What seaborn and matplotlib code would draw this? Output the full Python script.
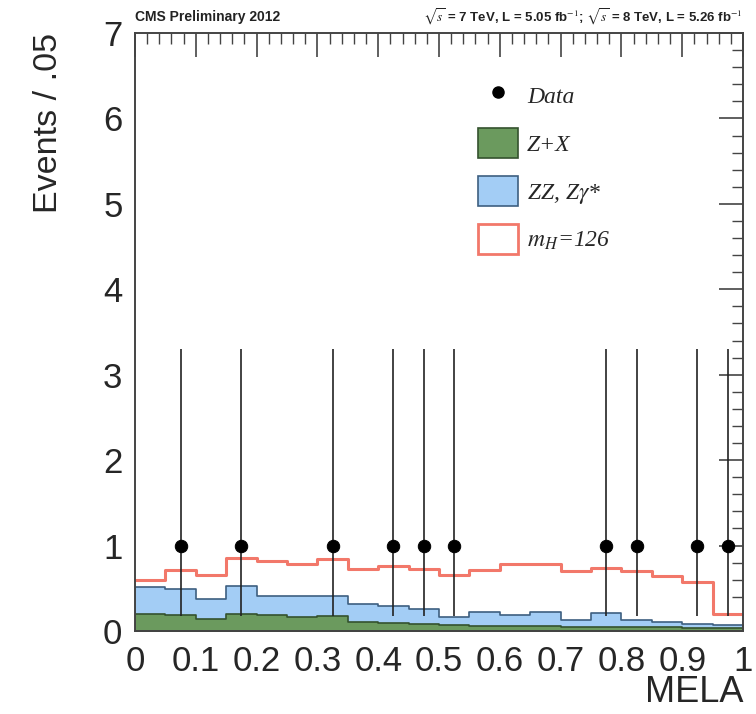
import numpy as np
import pandas as pd
import matplotlib
matplotlib.use("Agg")
import matplotlib.pyplot as plt
from matplotlib.patches import Patch
from matplotlib.lines import Line2D
from matplotlib.ticker import MultipleLocator
import seaborn as sns

# ---- data ----
bin_edges = [i * 0.05 for i in range(21)]
bin_centers = [0.025 + i * 0.05 for i in range(20)]

# Z+X contribution per bin
zx = [0.20, 0.19, 0.14, 0.20, 0.19, 0.16, 0.17, 0.10, 0.09, 0.08,
      0.07, 0.06, 0.06, 0.06, 0.05, 0.05, 0.05, 0.05, 0.04, 0.04]
# ZZ, Z gamma* contribution per bin
zz = [0.31, 0.30, 0.24, 0.33, 0.22, 0.25, 0.24, 0.22, 0.20, 0.18,
      0.09, 0.16, 0.13, 0.16, 0.08, 0.16, 0.08, 0.06, 0.04, 0.03]
# Signal mH=126 contribution per bin
sig = [0.09, 0.22, 0.27, 0.32, 0.41, 0.38, 0.43, 0.41, 0.47, 0.47,
       0.50, 0.49, 0.59, 0.56, 0.57, 0.53, 0.57, 0.53, 0.49, 0.13]

data_x = [0.075, 0.175, 0.325, 0.425, 0.475, 0.525, 0.775, 0.825, 0.925, 0.975]
data_y = [1, 1, 1, 1, 1, 1, 1, 1, 1, 1]
data_err_lo = [0.827] * 10
data_err_hi = [2.30] * 10

x_ticks = [0, 0.1, 0.2, 0.3, 0.4, 0.5, 0.6, 0.7, 0.8, 0.9, 1]
x_tick_labels = ["0", "0.1", "0.2", "0.3", "0.4", "0.5", "0.6", "0.7", "0.8", "0.9", "1"]
y_ticks = [0, 1, 2, 3, 4, 5, 6, 7]

# ---- style ----
sns.set_theme(style="white")
plt.rcParams["font.family"] = ["Liberation Sans", "DejaVu Sans"]
plt.rcParams["mathtext.fontset"] = "stix"

green = "#6b9a5e"
blue = "#a3cdf5"
red = "#f2786a"

fig = plt.figure(figsize=(7.56, 7.14), dpi=100)
ax = fig.add_axes([135 / 756, 1 - 631 / 714, (743 - 135) / 756, (631 - 33) / 714])

df = pd.DataFrame({"x": bin_centers, "zx": zx, "zz": zz, "sig": sig})
df["bkg"] = df["zx"] + df["zz"]
df["tot"] = df["bkg"] + df["sig"]

sns.histplot(data=df, x="x", weights="tot", bins=bin_edges, element="step",
             fill=False, color=red, linewidth=2.2, ax=ax)
sns.histplot(data=df, x="x", weights="bkg", bins=bin_edges, element="step",
             fill=True, facecolor=blue, edgecolor="#3d5f80", alpha=1,
             linewidth=1.2, ax=ax)
sns.histplot(data=df, x="x", weights="zx", bins=bin_edges, element="step",
             fill=True, facecolor=green, edgecolor="#34522e", alpha=1,
             linewidth=1.2, ax=ax)

ax.errorbar(data_x, data_y, yerr=[data_err_lo, data_err_hi], fmt="none",
            ecolor="#222222", elinewidth=1.2, capsize=0, zorder=5)
sns.scatterplot(x=data_x, y=data_y, color="black", s=80, edgecolor="black",
                zorder=6, ax=ax)

ax.set_xlim(0, 1)
ax.set_ylim(0, 7)
ax.set_xticks(x_ticks)
ax.set_xticklabels(x_tick_labels)
ax.set_yticks(y_ticks)
ax.xaxis.set_minor_locator(MultipleLocator(0.02))
ax.yaxis.set_minor_locator(MultipleLocator(0.2))
ax.tick_params(axis="both", which="major", direction="in", length=17, width=1.2,
               labelsize=25, top=True, right=True, color="#444444")
ax.tick_params(axis="both", which="minor", direction="in", length=8, width=1.0,
               top=True, right=True, color="#444444")
ax.tick_params(axis="x", which="major", pad=10)
ax.tick_params(axis="y", which="major", pad=9)
for s in ax.spines.values():
    s.set_color("#444444")
    s.set_linewidth(1.4)

ax.set_xlabel("MELA", fontsize=26, loc="right", labelpad=-2)
ax.set_ylabel("Events / .05", fontsize=24.5, loc="top", labelpad=28)

# legend
serif_it = {"family": "Liberation Serif", "style": "italic", "size": 17}
handles = [
    Line2D([0], [0], marker="o", color="none", markerfacecolor="black",
           markeredgecolor="black", markersize=8),
    Patch(facecolor=green, edgecolor="#34522e", linewidth=1.2),
    Patch(facecolor=blue, edgecolor="#3d5f80", linewidth=1.2),
    Patch(facecolor="white", edgecolor=red, linewidth=2.0),
]
labels = ["Data", "Z+X", r"ZZ, Z$\gamma$*", r"$m_{H}$=126"]
leg = ax.legend(handles, labels, loc="upper left", bbox_to_anchor=(0.564, 0.921),
                frameon=False, prop=serif_it, handlelength=1.7, handleheight=1.57,
                labelspacing=0.76, handletextpad=0.38, borderpad=0,
                borderaxespad=0)

fig.text(135 / 756, 1 - 17 / 714, "CMS Preliminary 2012", fontsize=10,
         fontweight="bold", ha="left", va="center", color="#222222")
fig.text(743 / 756, 1 - 17 / 714,
         r"$\sqrt{s}$ = 7 TeV, L = 5.05 fb$^{-1}$; $\sqrt{s}$ = 8 TeV, L = 5.26 fb$^{-1}$",
         fontsize=9.5, fontweight="bold", ha="right", va="center", color="#222222")

fig.savefig("out.png", dpi=100)
